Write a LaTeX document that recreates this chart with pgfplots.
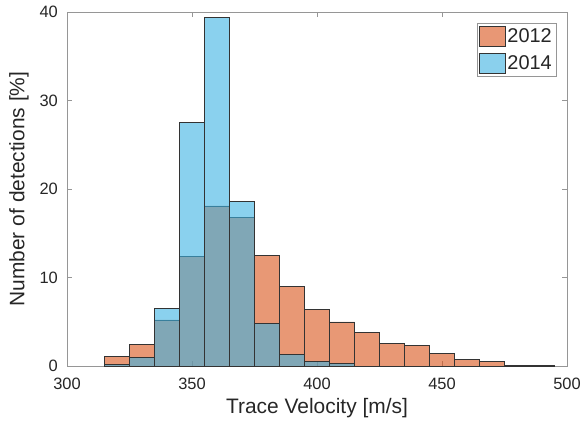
\documentclass[border=0pt]{standalone}
\usepackage{pgfplots}
\pgfplotsset{compat=1.18}
\usepackage{fontspec}
\setmainfont{Liberation Sans}
\definecolor{c2012}{RGB}{217,83,25}
\definecolor{c2014}{RGB}{60,178,226}
\definecolor{axgray}{RGB}{150,150,150}
\definecolor{txt}{RGB}{38,38,38}
\begin{document}
\begin{tikzpicture}
\begin{axis}[
  scale only axis,
  width=500bp, height=354bp,
  xmin=300, xmax=500, ymin=0, ymax=40,
  xtick={300,350,400,450,500},
  ytick={0,10,20,30,40},
  tick align=inside,
  major tick length=5bp,
  axis line style={axgray, line width=0.6pt},
  tick style={axgray, line width=0.6pt},
  ticklabel style={font=\fontsize{16.5}{19}\selectfont, text=txt, inner sep=1bp},
  xticklabel style={yshift=-11bp},
  yticklabel style={xshift=-8bp},
  /pgf/number format/assume math mode=true,
  xlabel={Trace Velocity [m/s]},
  ylabel={Number of detections [\%]},
  label style={font=\fontsize{21}{25}\selectfont, text=txt},
  xlabel style={at={(axis description cs:0.5,-0.118)}, anchor=center},
  ylabel style={at={(axis description cs:-0.096,0.5)}, anchor=center},
  legend style={at={(1,1)}, anchor=north east, xshift=-11bp, yshift=-11bp,
    draw=axgray, font=\fontsize{20}{24}\selectfont, text=txt,
    row sep=6bp, inner ysep=3bp, inner xsep=2bp},
  legend cell align=left,
  legend image code/.code={\draw[#1] (0bp,-10bp) rectangle (26bp,10bp);},
]
\addplot[ybar interval, fill=c2012, fill opacity=0.6, draw=black!80, line width=0.5pt] coordinates {
(315,1.05) (325,2.44) (335,5.2) (345,12.4) (355,18.1) (365,16.8) (375,12.5)
(385,9.0) (395,6.4) (405,5.0) (415,3.76) (425,2.56) (435,2.33) (445,1.4)
(455,0.75) (465,0.5) (475,0.1) (485,0.08) (495,0.08)};
\addlegendentry{2012}
\addplot[ybar interval, fill=c2014, fill opacity=0.6, draw=black!80, line width=0.5pt] coordinates {
(315,0.2) (325,0.94) (335,6.47) (345,27.5) (355,39.4) (365,18.6) (375,4.8)
(385,1.3) (395,0.5) (405,0.3) (415,0.3)};
\addlegendentry{2014}
\end{axis}
\path[use as bounding box] (-67bp,-58bp) rectangle (519bp,366bp);
\end{tikzpicture}
\end{document}
